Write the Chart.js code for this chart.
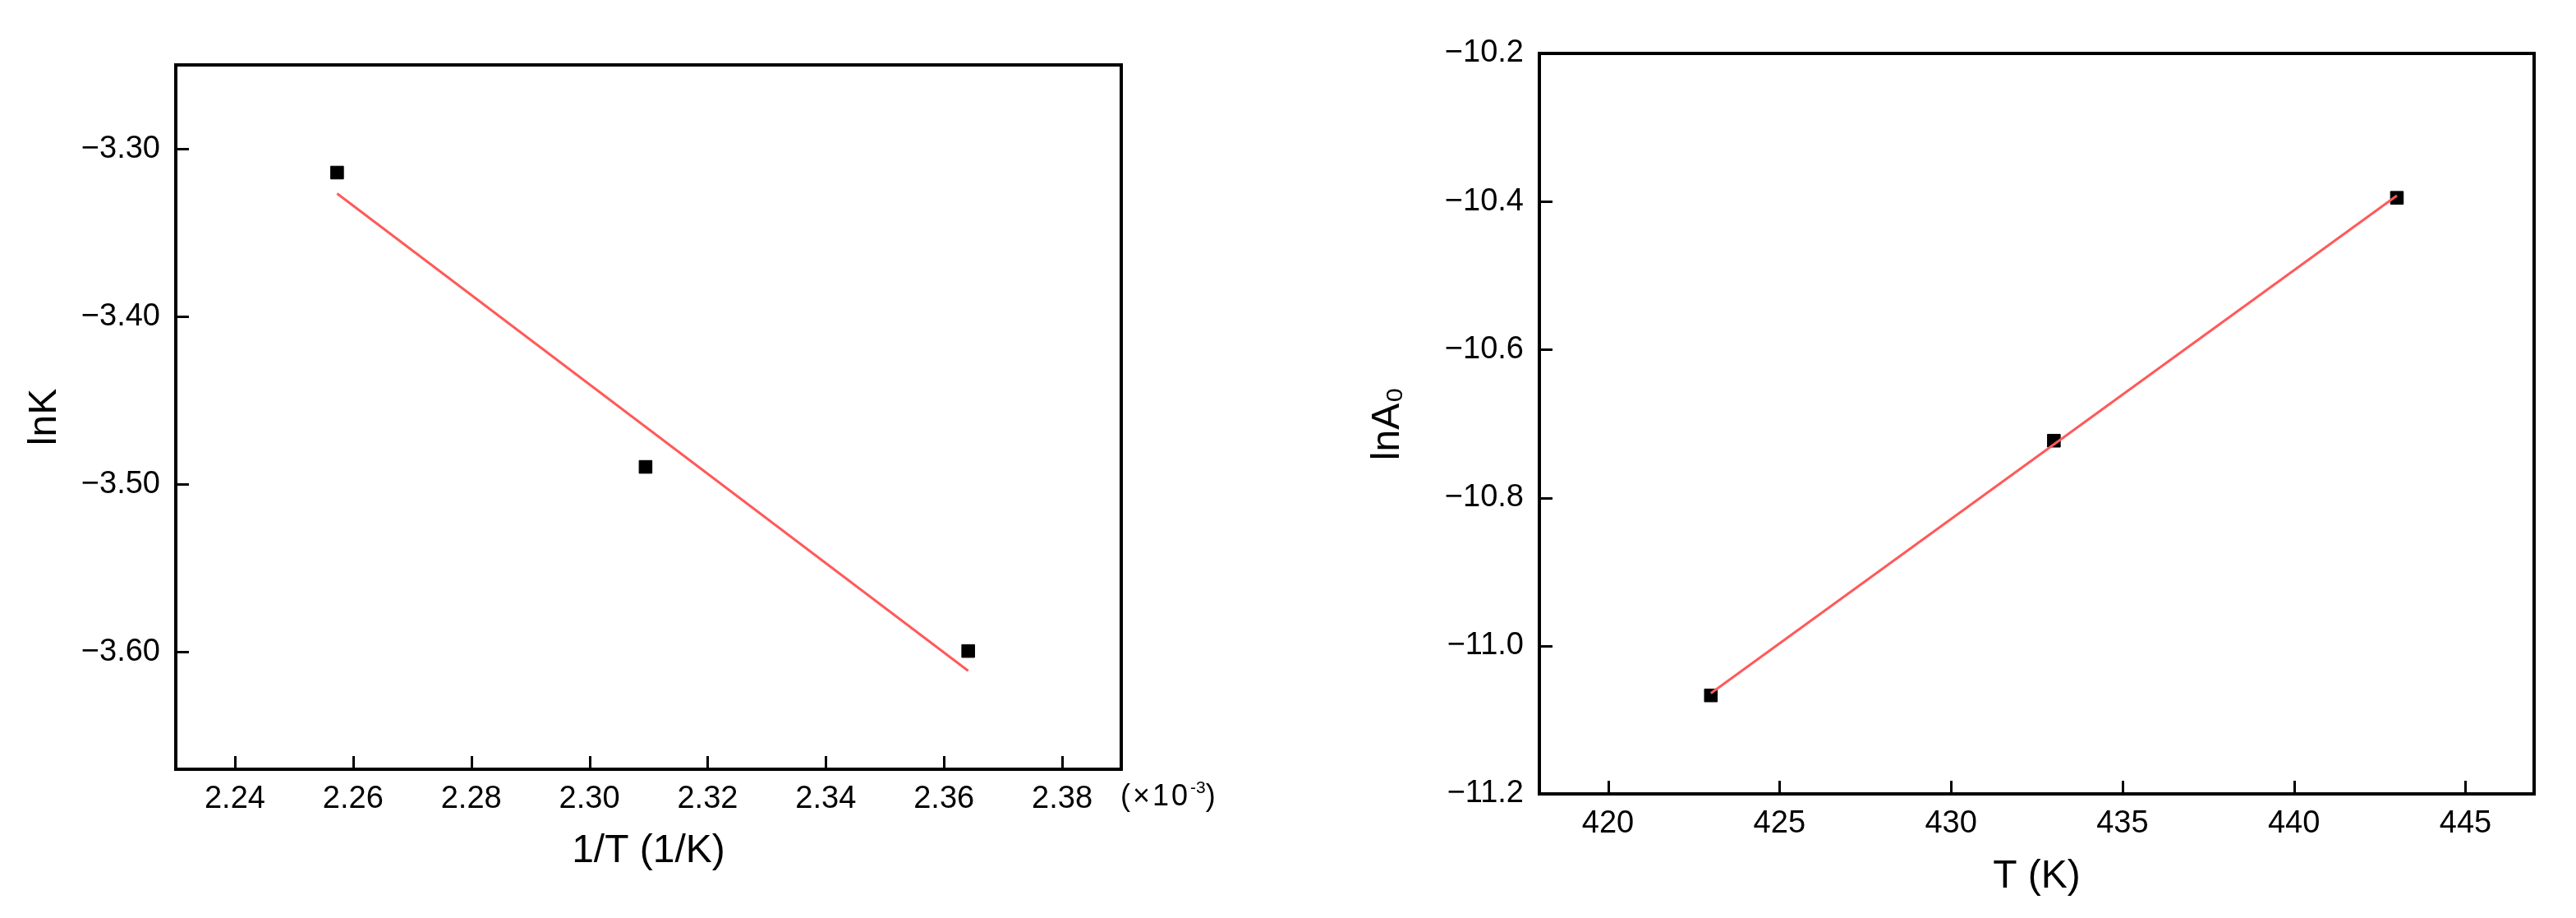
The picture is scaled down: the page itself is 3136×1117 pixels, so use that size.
<!DOCTYPE html>
<html><head><meta charset="utf-8">
<script src="https://cdn.jsdelivr.net/npm/chart.js@4.4.1/dist/chart.umd.min.js"></script>
<style>
html,body{margin:0;padding:0;background:#fff;width:3136px;height:1117px;overflow:hidden;}
.wrap{position:absolute;top:0;width:1568px;height:1117px;}
#unit{position:absolute;left:1364px;top:946px;font-family:'Liberation Sans',Arial,sans-serif;font-size:36px;line-height:44px;color:#000;white-space:nowrap;letter-spacing:3px}
#unit span{font-size:21px;position:relative;top:-15px;letter-spacing:0}
</style></head><body>
<div class="wrap" style="left:0"><canvas id="c1" width="1568" height="1117"></canvas></div>
<div class="wrap" style="left:1568px"><canvas id="c2" width="1568" height="1117"></canvas></div>
<div id="unit">(×10<span>-3</span>)</div>
<script>
// Left panel: lnK vs 1/T (x in units of 1e-3 1/K)
const invT = [2.2573, 2.3095, 2.3641];
const lnK = [-3.3142, -3.4897, -3.5995];
const fitInvT = [2.2573, 2.3641];
const fitLnK = [-3.3267, -3.6113];
const xTicksL = [2.24, 2.26, 2.28, 2.30, 2.32, 2.34, 2.36, 2.38];
const yTicksL = [-3.30, -3.40, -3.50, -3.60];

// Right panel: lnA0 vs T
const tempK = [423, 433, 443];
const lnA0 = [-11.067, -10.723, -10.395];
const fitT = [423, 443];
const fitLnA0 = [-11.064, -10.392];
const xTicksR = [420, 425, 430, 435, 440, 445];
const yTicksR = [-10.2, -10.4, -10.6, -10.8, -11.0, -11.2];

const FAMILY = "'Liberation Sans', Arial, 'DejaVu Sans', sans-serif";
const RED = '#ff5a5a';
const TICK_LEN = 16;

// Draws the box frame and inward tick marks at the scales' tick positions
const framePlugin = {
  id: 'frame',
  afterDraw(chart) {
    const {ctx, chartArea: a, scales} = chart;
    ctx.save();
    ctx.strokeStyle = '#000';
    ctx.lineCap = 'butt';
    ctx.lineWidth = 3;
    const xs = scales.x, ys = scales.y;
    ctx.beginPath();
    xs.ticks.forEach(t => {
      const px = Math.round(xs.getPixelForValue(t.value)) + 0.5;
      ctx.moveTo(px, a.bottom);
      ctx.lineTo(px, a.bottom - TICK_LEN);
    });
    ys.ticks.forEach(t => {
      const py = Math.round(ys.getPixelForValue(t.value)) + 0.5;
      ctx.moveTo(a.left, py);
      ctx.lineTo(a.left + TICK_LEN, py);
    });
    ctx.stroke();
    ctx.lineWidth = 4;
    ctx.strokeRect(a.left, a.top, a.right - a.left, a.bottom - a.top);
    ctx.restore();
  }
};

function minusFmt(v, d) {
  return (v < 0 ? '\u2212' : '') + Math.abs(v).toFixed(d);
}

function makeChart(id, o) {
  const pts = o.xs.map((x, i) => ({x: x, y: o.ys[i]}));
  const fit = o.fx.map((x, i) => ({x: x, y: o.fy[i]}));
  const grid = {display: false, drawOnChartArea: false, drawTicks: false, tickLength: 0};
  return new Chart(document.getElementById(id), {
    type: 'scatter',
    data: {
      datasets: [
        {data: fit, showLine: true, borderColor: RED, borderWidth: 3, pointRadius: 0, fill: false},
        {data: pts, showLine: false, pointStyle: 'rect', pointRadius: 11, backgroundColor: '#000', borderColor: '#000', borderWidth: 1}
      ]
    },
    options: {
      responsive: false, animation: false, devicePixelRatio: 1,
      layout: {padding: {left: 0, top: o.padTop, right: o.padRight, bottom: 0}},
      plugins: {legend: {display: false}, tooltip: {enabled: false}},
      scales: {
        x: {
          type: 'linear', position: 'bottom', min: o.xmin, max: o.xmax,
          afterBuildTicks: s => { s.ticks = o.xTicks.map(v => ({value: v})); },
          afterFit: s => { s.height = o.xAxisH; },
          ticks: {padding: 14, color: '#000', autoSkip: false, maxRotation: 0,
                  font: {family: FAMILY, size: 38}, callback: v => minusFmt(v, o.xDec)},
          grid: grid, border: {display: false},
          title: {display: true, text: o.xTitle, color: '#000', font: {family: FAMILY, size: 48},
                  padding: {top: 0, bottom: o.xTitlePad}}
        },
        y: {
          type: 'linear', position: 'left', min: o.ymin, max: o.ymax,
          afterBuildTicks: s => { s.ticks = o.yTicks.map(v => ({value: v})); },
          afterFit: s => { s.width = o.yAxisW; },
          ticks: {padding: 19, color: '#000', autoSkip: false,
                  font: {family: FAMILY, size: 38}, callback: v => minusFmt(v, o.yDec)},
          grid: grid, border: {display: false},
          title: {display: true, text: o.yTitle, color: '#000', font: {family: FAMILY, size: 48},
                  padding: {top: o.yTitlePad, bottom: 0}}
        }
      }
    },
    plugins: [framePlugin]
  });
}

makeChart('c1', {
  xs: invT, ys: lnK, fx: fitInvT, fy: fitLnK,
  xmin: 2.23, xmax: 2.39, ymin: -3.67, ymax: -3.25,
  xTicks: xTicksL, yTicks: yTicksL, xDec: 2, yDec: 2,
  xTitle: '1/T (1/K)', yTitle: 'lnK',
  padTop: 79, padRight: 203, xAxisH: 181, yAxisW: 214,
  xTitlePad: 52, yTitlePad: 26
});

makeChart('c2', {
  xs: tempK, ys: lnA0, fx: fitT, fy: fitLnA0,
  xmin: 418, xmax: 447, ymin: -11.2, ymax: -10.2,
  xTicks: xTicksR, yTicks: yTicksR, xDec: 0, yDec: 1,
  xTitle: 'T (K)', yTitle: 'lnA\u2080',
  padTop: 65, padRight: 51, xAxisH: 151, yAxisW: 306,
  xTitlePad: 21, yTitlePad: 93
});
</script>
</body></html>
